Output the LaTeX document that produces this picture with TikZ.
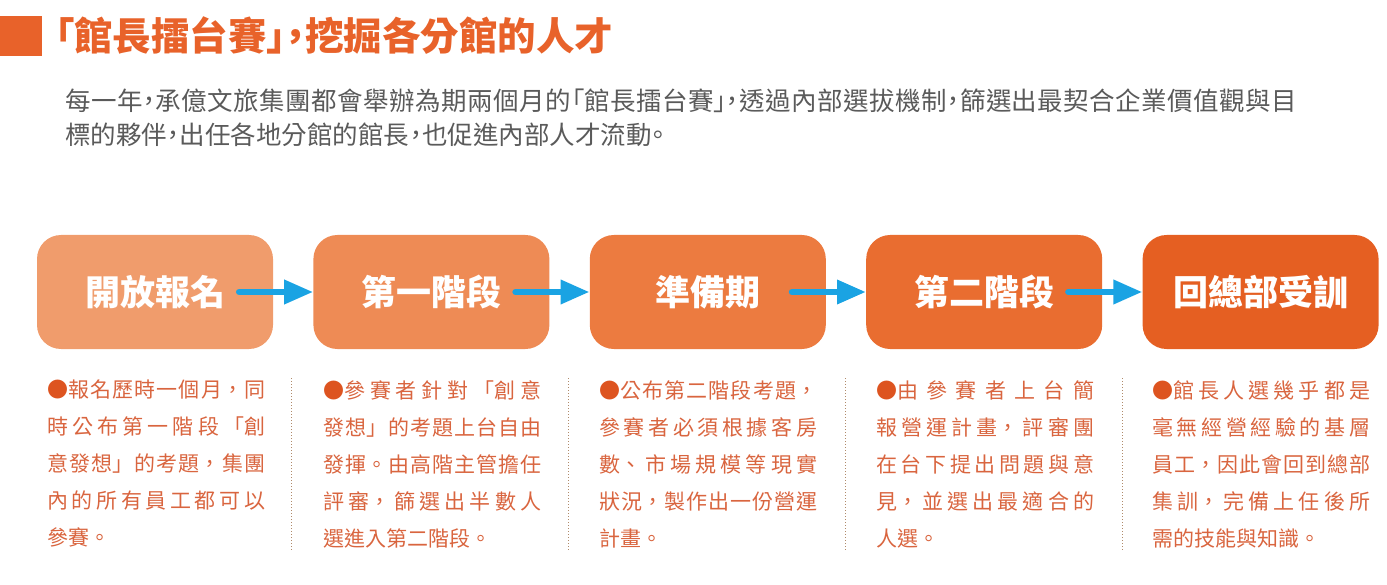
\documentclass[tikz,border=0pt]{standalone}
\usepackage{fontspec}
\setmainfont{Noto Sans CJK TC}
\newfontfamily\propfont[RawFeature=+palt]{Noto Sans CJK TC}
\usetikzlibrary{positioning,arrows.meta}
\definecolor{titleorange}{HTML}{E8622A}
\definecolor{paragray}{HTML}{5A5A5A}
\definecolor{stageA}{HTML}{F09C6C}
\definecolor{stageB}{HTML}{EE8B55}
\definecolor{stageC}{HTML}{EC7B40}
\definecolor{stageD}{HTML}{E96D30}
\definecolor{stageE}{HTML}{E55F22}
\definecolor{arrowblue}{HTML}{1AA3E3}
\definecolor{notetext}{HTML}{D9653F}
\definecolor{bulletorange}{HTML}{DD5420}
\definecolor{dotbrown}{HTML}{B08A6A}
\XeTeXlinebreaklocale "zh"
\XeTeXlinebreakskip=0pt plus 20pt
\tolerance=10000
\hbadness=10000
\newcommand\orangedot{{\color{bulletorange}●}}
\begin{document}
\begin{tikzpicture}[x=1pt,y=-1pt,
  stagebox/.style={rounded corners=24pt,minimum width=236pt,minimum height=114pt,inner sep=0pt,
    text=white,font=\fontsize{35}{35}\selectfont\bfseries},
  flowarrow/.style={line width=6.5pt,arrowblue,line cap=round,-{Triangle[length=29pt,width=23pt]}},
  noteblock/.style={anchor=north west,inner sep=0pt,text width=218pt,align=justify,
    text=notetext,font=\fontsize{21}{37}\selectfont},
  sepline/.style={dotbrown,line width=1pt,dash pattern=on 1pt off 2pt}]
  \useasboundingbox (0,0) rectangle (1387,585);
  \fill[titleorange] (0,16) rectangle (42,56);
  \node[anchor=west,inner sep=0pt,text=titleorange,font=\propfont\fontsize{38.5}{38.5}\selectfont\bfseries] (title) at (55,36)
    {「館長擂台賽」，挖掘各分館的人才};
  \node[anchor=north west,inner sep=0pt,text width=1232pt,align=justify,text=paragray,
    font=\propfont\fontsize{25.5}{34}\selectfont] (intro) at (65,89)
    {每一年，承億文旅集團都會舉辦為期兩個月的「館長擂台賽」，透過內部選拔機制，篩選出最契合企業價值觀與目\linebreak 標的夥伴，出任各地分館的館長，也促進內部人才流動。};
  \node[stagebox,fill=stageA] (b1) at (155,292) {開放報名};
  \node[stagebox,fill=stageB,right=40pt of b1] (b2) {第一階段};
  \node[stagebox,fill=stageC,right=40pt of b2] (b3) {準備期};
  \node[stagebox,fill=stageD,right=40pt of b3] (b4) {第二階段};
  \node[stagebox,fill=stageE,right=40pt of b4] (b5) {回總部受訓};
  \foreach \a/\b in {b1/b2,b2/b3,b3/b4,b4/b5}
    \draw[flowarrow] ([xshift=-34pt]\a.east) -- (\b.west);
  \node[noteblock] (n1) at (47,380) {\orangedot 報名歷時一個月，同\linebreak 時公布第一階段「創\linebreak 意發想」的考題，集團\linebreak 內的所有員工都可以\linebreak 參賽。};
  \node[noteblock] (n2) at (323,380) {\orangedot 參賽者針對「創意\linebreak 發想」的考題上台自由\linebreak 發揮。由高階主管擔任\linebreak 評審，篩選出半數人\linebreak 選進入第二階段。};
  \node[noteblock] (n3) at (599,380) {\orangedot 公布第二階段考題，\linebreak 參賽者必須根據客房\linebreak 數、市場規模等現實\linebreak 狀況，製作出一份營運\linebreak 計畫。};
  \node[noteblock] (n4) at (876,380) {\orangedot 由參賽者上台簡\linebreak 報營運計畫，評審團\linebreak 在台下提出問題與意\linebreak 見，並選出最適合的\linebreak 人選。};
  \node[noteblock] (n5) at (1152,380) {\orangedot 館長人選幾乎都是\linebreak 毫無經營經驗的基層\linebreak 員工，因此會回到總部\linebreak 集訓，完備上任後所\linebreak 需的技能與知識。};
  \draw[sepline] (291,378) -- (291,550);
  \draw[sepline] (568,378) -- (568,550);
  \draw[sepline] (845,378) -- (845,550);
  \draw[sepline] (1122,378) -- (1122,550);
\end{tikzpicture}
\end{document}
